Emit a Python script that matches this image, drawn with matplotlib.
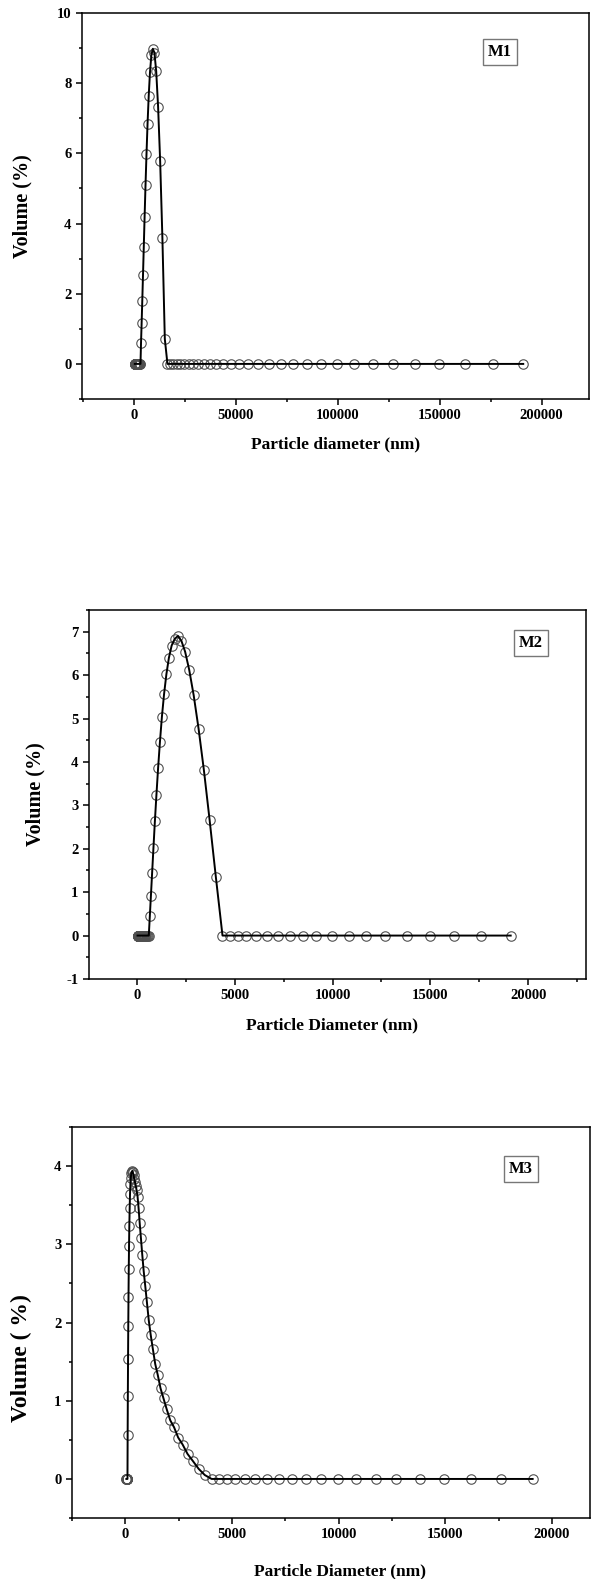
import matplotlib
matplotlib.use('Agg')
from matplotlib import pyplot as plt
from matplotlib.ticker import MultipleLocator

plt.rcParams['font.family'] = ['Liberation Serif', 'DejaVu Serif']
plt.rcParams['font.weight'] = 'bold'
plt.rcParams['axes.unicode_minus'] = False

# M1 size bins (nm) and volume (%)
m1_diam = [400, 440, 480, 520, 570, 620, 670, 730, 790, 860,
           930, 1010, 1100, 1200, 1300, 1410, 1530, 1660, 1800, 1960,
           2120, 2300, 2500, 2710, 2950, 3200, 3470, 3760, 4080, 4430,
           4810, 5220, 5670, 6150, 6670, 7240, 7860, 8530, 9260, 10050,
           10910, 11840, 12850, 13950, 15140, 16430, 17830, 19350, 21000, 22800,
           24700, 26800, 29100, 31600, 34300, 37200, 40400, 43800, 47600, 51600,
           56000, 60800, 66300, 72100, 78100, 84800, 91700, 99700, 108200, 117300,
           127000, 138000, 149600, 162300, 176000, 191000]
m1_vol = [0, 0, 0, 0, 0, 0, 0, 0, 0, 0,
          0, 0, 0, 0, 0, 0, 0, 0, 0, 0,
          0, 0, 0, 0, 0, 0, 0.61, 1.16, 1.80, 2.52,
          3.32, 4.19, 5.10, 5.98, 6.85, 7.64, 8.31, 8.79, 8.98, 8.86,
          8.34, 7.33, 5.78, 3.59, 0.71, 0, 0, 0, 0, 0,
          0, 0, 0, 0, 0, 0, 0, 0, 0, 0,
          0, 0, 0, 0, 0, 0, 0, 0, 0, 0,
          0, 0, 0, 0, 0, 0]

# M2 / M3 share the same size bins (nm)
diam = [40, 44, 48, 52, 57, 62, 67, 73, 79, 86,
        93, 101, 110, 120, 130, 141, 153, 166, 180, 196,
        212, 230, 250, 271, 295, 320, 347, 376, 408, 443,
        481, 522, 567, 615, 667, 724, 786, 853, 926, 1005,
        1091, 1184, 1285, 1395, 1514, 1643, 1783, 1935, 2100, 2280,
        2470, 2680, 2910, 3160, 3430, 3720, 4040, 4380, 4760, 5160,
        5600, 6080, 6630, 7210, 7810, 8480, 9170, 9970, 10820, 11730,
        12700, 13800, 14960, 16230, 17600, 19100]
m2_vol = [0, 0, 0, 0, 0, 0, 0, 0, 0, 0,
          0, 0, 0, 0, 0, 0, 0, 0, 0, 0,
          0, 0, 0, 0, 0, 0, 0, 0, 0, 0,
          0, 0, 0, 0, 0.44, 0.92, 1.45, 2.02, 2.63, 3.24,
          3.86, 4.46, 5.04, 5.56, 6.02, 6.40, 6.68, 6.83, 6.90, 6.79,
          6.54, 6.12, 5.53, 4.76, 3.81, 2.67, 1.35, 0, 0, 0,
          0, 0, 0, 0, 0, 0, 0, 0, 0, 0,
          0, 0, 0, 0, 0, 0]
m3_vol = [0, 0, 0, 0, 0, 0, 0, 0, 0, 0,
          0, 0.56, 1.06, 1.53, 1.95, 2.33, 2.68, 2.98, 3.24, 3.46,
          3.64, 3.77, 3.85, 3.91, 3.93, 3.94, 3.92, 3.89, 3.84, 3.80,
          3.75, 3.69, 3.61, 3.46, 3.27, 3.08, 2.87, 2.66, 2.47, 2.26,
          2.03, 1.84, 1.66, 1.47, 1.33, 1.16, 1.03, 0.89, 0.75, 0.66,
          0.53, 0.44, 0.32, 0.23, 0.13, 0.05, 0, 0, 0, 0,
          0, 0, 0, 0, 0, 0, 0, 0, 0, 0,
          0, 0, 0, 0, 0, 0]


def panel(rect, x, y, xlim, ylim, xmaj, ymaj, xlabel, ylabel, tag,
          xlab_pos, ylab_pos, tag_pos, ylab_size=14.5):
    ax = fig.add_axes(rect)
    ax.plot(x, y, 'o', mfc='none', mec='#505050', ms=6.8, mew=0.8, zorder=2)
    ax.plot(x, y, '-', color='black', lw=1.4, zorder=3)
    ax.set_xlim(xlim)
    ax.set_ylim(ylim)
    ax.xaxis.set_major_locator(MultipleLocator(xmaj))
    ax.xaxis.set_minor_locator(MultipleLocator(xmaj / 2))
    ax.yaxis.set_major_locator(MultipleLocator(ymaj))
    ax.yaxis.set_minor_locator(MultipleLocator(ymaj / 2))
    ax.tick_params(which='both', direction='out', top=False, right=False,
                   width=1.1, labelsize=10.5, pad=3)
    ax.tick_params(which='major', length=4.5)
    ax.tick_params(which='minor', length=2.5)
    for s in ax.spines.values():
        s.set_linewidth(1.1)
    ax.set_xlabel(xlabel, fontsize=12.5, fontweight='bold')
    ax.set_ylabel(ylabel, fontsize=ylab_size, fontweight='bold')
    ax.xaxis.set_label_coords(*xlab_pos)
    ax.yaxis.set_label_coords(*ylab_pos)
    ax.text(tag_pos[0], tag_pos[1], tag, transform=ax.transAxes,
            ha='center', va='center', fontsize=12, fontweight='bold',
            bbox=dict(boxstyle='square,pad=0.3', fc='white', ec='#777777', lw=1))
    return ax


fig = plt.figure(figsize=(5.92, 15.79), dpi=100)

panel([0.1385, 0.7473, 0.8564, 0.2445], m1_diam, m1_vol,
      (-25500, 223260), (-1, 10), 50000, 2,
      'Particle diameter (nm)', 'Volume (%)', 'M1',
      (0.5, -0.096), (-0.098, 0.5), (0.824, 0.899))

panel([0.1503, 0.3800, 0.8390, 0.2337], diam, m2_vol,
      (-2440, 22930), (-1, 7.5), 5000, 1,
      'Particle Diameter (nm)', 'Volume (%)', 'M2',
      (0.49, -0.103), (-0.088, 0.5), (0.89, 0.911))

panel([0.1216, 0.0386, 0.8750, 0.2476], diam, m3_vol,
      (-2510, 21790), (-0.5, 4.5), 5000, 1,
      'Particle Diameter (nm)', 'Volume ( %)', 'M3',
      (0.517, -0.115), (-0.078, 0.41), (0.866, 0.892), ylab_size=17)

plt.savefig('out.png', dpi=100)
